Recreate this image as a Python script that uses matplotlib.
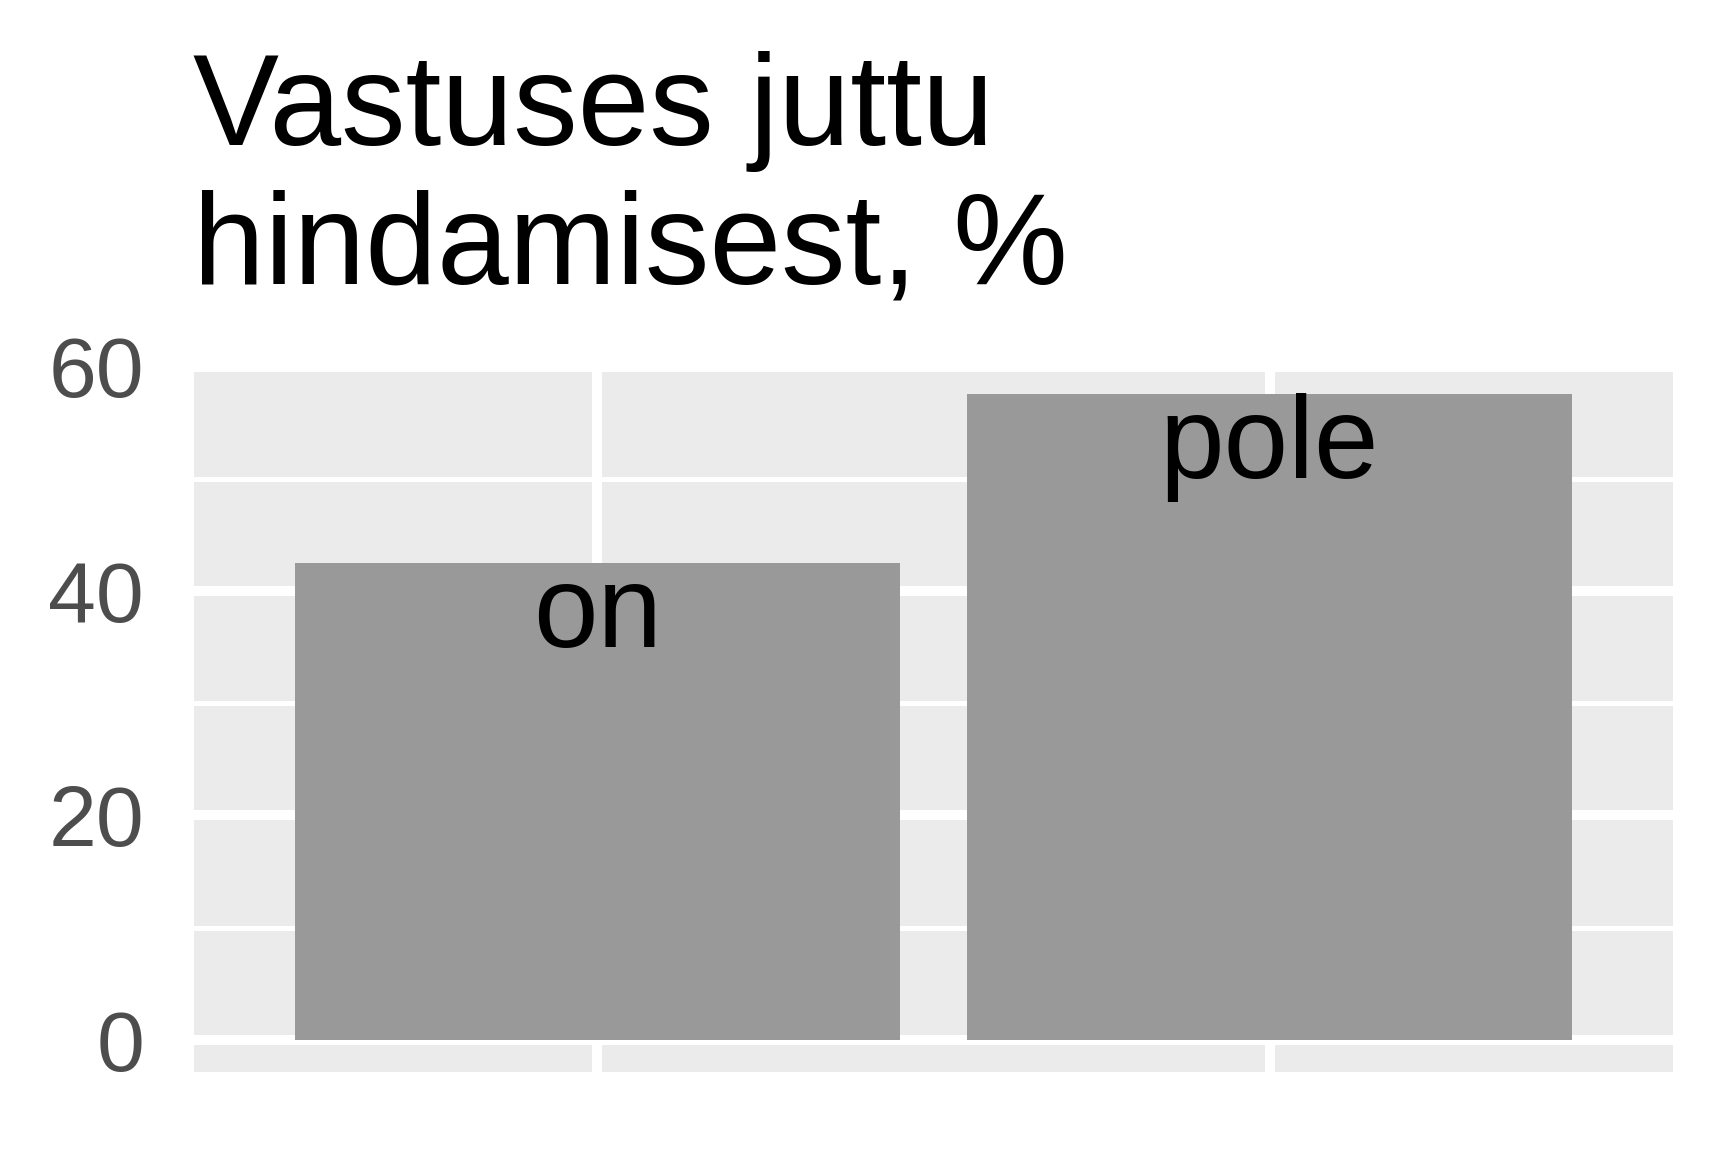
import matplotlib.pyplot as plt
from matplotlib.ticker import MultipleLocator

plt.rcParams['font.family'] = ['Liberation Sans', 'DejaVu Sans']

categories = ['on', 'pole']
shares = [42.5, 57.5]
title_lines = ['Vastuses juttu', 'hindamisest, %']
y_ticks = [0, 20, 40, 60]

fig = plt.figure(figsize=(12, 8), dpi=144)
ax = fig.add_axes([194 / 1728, 1 - 1072 / 1152, (1673 - 194) / 1728, 700 / 1152])

ax.set_facecolor('#EBEBEB')
x = list(range(len(categories)))
ax.bar(x, shares, width=0.9, color='#999999', zorder=3)

for xi, cat, val in zip(x, categories, shares):
    ax.annotate(cat, (xi, val), xytext=(0, -42), textcoords='offset points',
                ha='center', va='baseline', fontsize=58, color='black', zorder=4)

ax.set_xlim(-0.6, len(categories) - 0.4)
ax.set_ylim(-2.85, 59.5)
ax.set_yticks(y_ticks[:-1])
ax.set_yticklabels([str(t) for t in y_ticks[:-1]])
ax.yaxis.set_minor_locator(MultipleLocator(10))
ax.set_xticks(x)
ax.set_xticklabels([])

# top break sits just above the panel edge, label only (like ggplot output)
ax.annotate(str(y_ticks[-1]), (0, y_ticks[-1]), xycoords=('axes fraction', 'data'),
            xytext=(-25, 0), textcoords='offset points', ha='right', va='center_baseline',
            fontsize=43, color='#4D4D4D', annotation_clip=False)

ax.grid(which='major', color='white', linewidth=5, zorder=1)
ax.grid(which='minor', axis='y', color='white', linewidth=2.5, zorder=1)
ax.set_axisbelow(True)

ax.tick_params(axis='both', which='both', length=0)
ax.tick_params(axis='y', labelsize=43, labelcolor='#4D4D4D', pad=25)
for s in ax.spines.values():
    s.set_visible(False)

fig.text(193 / 1728, 1 - 145.5 / 1152, title_lines[0], fontsize=64.5, va='baseline', ha='left')
fig.text(193 / 1728, 1 - 284 / 1152, title_lines[1], fontsize=64.5, va='baseline', ha='left')

fig.savefig('out.png', dpi=144, facecolor='white')
